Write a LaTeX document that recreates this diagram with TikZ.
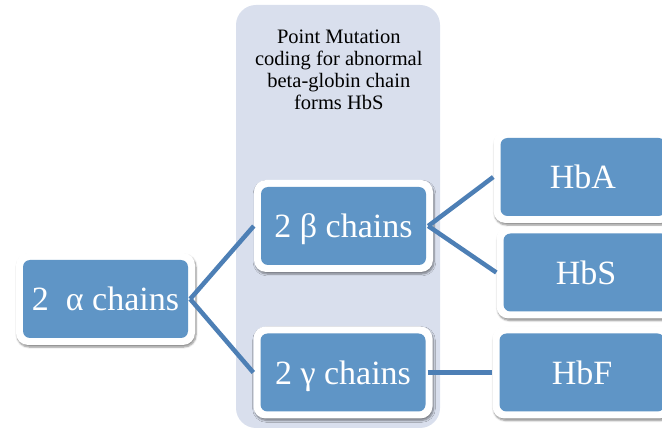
\documentclass[tikz,border=0pt]{standalone}
\usepackage{fontspec}
\setmainfont{Liberation Serif}
\usetikzlibrary{shadows.blur}
\definecolor{boxblue}{HTML}{5F95C6}
\definecolor{panelblue}{HTML}{D9DFED}
\definecolor{linkblue}{HTML}{4D7FB5}
\tikzset{
  chainbox/.style={rectangle, rounded corners=12pt, fill=white, text=white,
    font=\fontsize{34}{38}\selectfont, text height=29pt, text depth=5pt,
    minimum width=179pt, minimum height=92pt, inner sep=0pt,
    blur shadow={shadow xshift=1pt, shadow yshift=-2pt, shadow blur steps=6, shadow opacity=45},
    path picture={\fill[boxblue, rounded corners=7pt]
      ([shift={(7pt,7pt)}]path picture bounding box.south west) rectangle
      ([shift={(-7pt,-7pt)}]path picture bounding box.north east);}},
  link/.style={draw=linkblue, line width=4.5pt},
  panel/.style={fill=panelblue, rounded corners=20pt},
  paneltext/.style={align=center, font=\fontsize{20.5}{22}\selectfont, text=black}
}
\begin{document}
\begin{tikzpicture}[x=1pt,y=-1pt]
\useasboundingbox (0,0) rectangle (662,430);
\fill[panel] (236,5) rectangle (440,428);
\node[paneltext] (note) at (338.8,70) {Point Mutation\\coding for abnormal\\beta-globin chain\\forms HbS};
\node[chainbox] (alpha) at (105.5,299) {2\enspace α chains};
\node[chainbox] (beta) at (343.5,226) {2 β chains};
\node[chainbox] (gamma) at (343,372.5) {2 γ chains};
\node[chainbox] (hba) at (583,177) {HbA};
\node[chainbox] (hbs) at (586,272.5) {HbS};
\node[chainbox] (hbf) at (582,372.5) {HbF};
\draw[link] ([xshift=-5pt]alpha.east) -- (beta.west);
\draw[link] ([xshift=-5pt]alpha.east) -- (gamma.west);
\draw[link] ([xshift=-5pt]beta.east) -- (hba.west);
\draw[link] ([xshift=-5pt]beta.east) -- (hbs.west);
\draw[link] ([xshift=-5pt]gamma.east) -- (hbf.west);
\end{tikzpicture}
\end{document}
